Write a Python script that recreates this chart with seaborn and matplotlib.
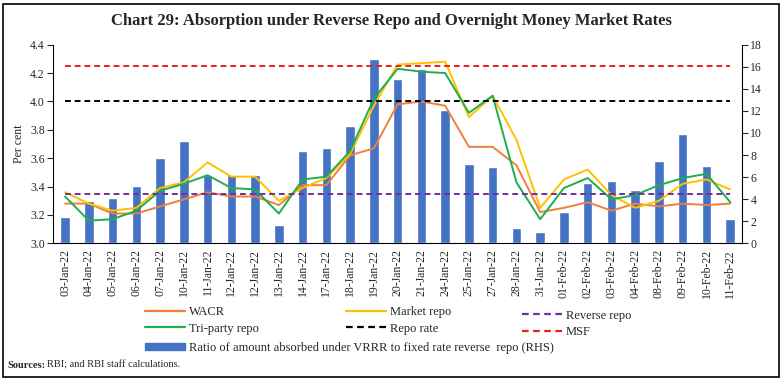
import matplotlib
matplotlib.use("Agg")
import matplotlib.pyplot as plt
import matplotlib.patches as mpatches
from matplotlib.lines import Line2D
import numpy as np
import pandas as pd
import seaborn as sns

sns.set_style("white")
plt.rcParams['font.family'] = ['Liberation Serif', 'DejaVu Serif']

# data
dates = ['03-Jan-22', '04-Jan-22', '05-Jan-22', '06-Jan-22', '07-Jan-22', '10-Jan-22',
         '11-Jan-22', '12-Jan-22', '12-Jan-22', '13-Jan-22', '14-Jan-22', '17-Jan-22',
         '18-Jan-22', '19-Jan-22', '20-Jan-22', '21-Jan-22', '24-Jan-22', '25-Jan-22',
         '27-Jan-22', '28-Jan-22', '31-Jan-22', '01-Feb-22', '02-Feb-22', '03-Feb-22',
         '04-Feb-22', '08-Feb-22', '09-Feb-22', '10-Feb-22', '11-Feb-22']
vrrr_ratio = [2.4, 3.8, 4.1, 5.2, 7.7, 9.3, 6.2, 6.2, 6.2, 1.7, 8.4, 8.6, 10.6, 16.7,
              14.9, 15.8, 12.1, 7.2, 6.95, 1.35, 1.05, 2.85, 5.45, 5.65, 4.8, 7.5,
              9.9, 7.0, 2.25]
wacr = [3.28, 3.28, 3.21, 3.21, 3.26, 3.31, 3.36, 3.33, 3.33, 3.27, 3.41, 3.41, 3.62,
        3.67, 3.98, 4.00, 3.97, 3.68, 3.68, 3.55, 3.22, 3.25, 3.29, 3.23, 3.28, 3.26,
        3.28, 3.27, 3.28]
market_repo = [3.36, 3.28, 3.23, 3.25, 3.39, 3.43, 3.57, 3.47, 3.47, 3.30, 3.39, 3.46,
               3.63, 3.97, 4.26, 4.27, 4.28, 3.89, 4.04, 3.73, 3.25, 3.45, 3.52, 3.34,
               3.25, 3.30, 3.42, 3.45, 3.38]
triparty = [3.33, 3.16, 3.17, 3.23, 3.37, 3.42, 3.48, 3.39, 3.38, 3.21, 3.45, 3.47,
            3.65, 4.02, 4.23, 4.21, 4.20, 3.92, 4.04, 3.43, 3.17, 3.39, 3.46, 3.31,
            3.34, 3.41, 3.46, 3.49, 3.29]
repo_rate = [4.0] * len(dates)
reverse_repo = [3.35] * len(dates)
msf = [4.25] * len(dates)

pos = np.arange(len(dates))
df = pd.DataFrame({'pos': pos, 'ratio': vrrr_ratio, 'WACR': wacr,
                   'Market repo': market_repo, 'Tri-party repo': triparty,
                   'Repo rate': repo_rate, 'Reverse repo': reverse_repo, 'MSF': msf})

fig = plt.figure(figsize=(7.82, 3.82), dpi=100)
ax = fig.add_axes([0.068, 0.363, 0.881, 0.52])
ax2 = ax.twinx()

# bars on the right axis
sns.barplot(data=df, x='pos', y='ratio', color='#4472C4', width=0.4,
            native_scale=True, ax=ax2, saturation=1, zorder=1)

line_styles = {
    'WACR': ('#F07F3C', '-'),
    'Market repo': ('#FFC000', '-'),
    'Tri-party repo': ('#1FAE4B', '-'),
    'Repo rate': ('black', (0, (3, 2))),
    'Reverse repo': ('#7030A0', (0, (3, 2))),
    'MSF': ('#E8201C', (0, (3, 2))),
}
for name, (col, ls) in line_styles.items():
    sns.lineplot(data=df, x='pos', y=name, color=col, linestyle=ls, linewidth=1.4,
                 ax=ax)

ax.set_zorder(ax2.get_zorder() + 1)
ax.patch.set_visible(False)

ax.set_xlim(-0.5, len(dates) - 0.5)
ax.set_ylim(3.0, 4.4)
ax.set_yticks(np.arange(3.0, 4.41, 0.2))
ax.set_yticklabels([f"{v:.1f}" for v in np.arange(3.0, 4.41, 0.2)], fontsize=8.5)
ax2.set_ylim(0, 18)
ax2.set_yticks(range(0, 19, 2))
ax2.set_yticklabels([str(v) for v in range(0, 19, 2)], fontsize=8.5)
ax.set_ylabel('Per cent', fontsize=8.5)
ax2.set_ylabel('')
ax.set_xlabel('')
ax2.set_xlabel('')

ax.set_xticks(pos)
ax.set_xticklabels(dates, rotation=90, fontsize=8.5)
ax.set_xticks(np.arange(-0.5, len(dates), 1), minor=True)
ax.tick_params(axis='x', which='major', length=0, pad=4)
ax.tick_params(axis='x', which='minor', length=4, direction='out', width=0.8)
ax.tick_params(axis='y', length=4, direction='out', width=0.8, pad=2)
ax2.tick_params(axis='y', length=4, direction='out', width=0.8, pad=2)

for a in (ax, ax2):
    a.spines['top'].set_visible(False)
    for s in ('left', 'right', 'bottom'):
        a.spines[s].set_linewidth(0.8)
        a.spines[s].set_color('black')
ax.spines['right'].set_visible(False)
ax2.spines['left'].set_visible(False)
ax2.spines['bottom'].set_visible(False)

fig.text(0.5, 0.945, 'Chart 29: Absorption under Reverse Repo and Overnight Money Market Rates',
         ha='center', va='center', fontsize=12, fontweight='bold')


def line_handle(name):
    col, ls = line_styles[name]
    return Line2D([], [], color=col, linestyle=ls, lw=1.6)


legend_kw = dict(frameon=False, fontsize=9, handlelength=3.2, labelspacing=0.35,
                 borderaxespad=0, borderpad=0, handletextpad=0.3, loc='center left')
columns = [(['WACR', 'Tri-party repo'], 0.1854, 0.161),
           (['Market repo', 'Repo rate'], 0.4425, 0.161),
           (['Reverse repo', 'MSF'], 0.6675, 0.152)]
for names, lx, ly in columns:
    fig.legend([line_handle(n) for n in names], names, bbox_to_anchor=(lx, ly),
               **legend_kw)
fig.legend([mpatches.Patch(color='#4472C4')],
           ['Ratio of amount absorbed under VRRR to fixed rate reverse  repo (RHS)'],
           bbox_to_anchor=(0.1854, 0.089), handleheight=0.4, **legend_kw)

fig.text(0.01, 0.0445, 'Sources:', fontsize=7.5, fontweight='bold', va='center')
fig.text(0.060, 0.0445, 'RBI; and RBI staff calculations.', fontsize=7.5, va='center')

fig.patches.append(mpatches.Rectangle((0.0038, 0.013), 0.992, 0.976, transform=fig.transFigure,
                                      fill=False, edgecolor='black', linewidth=1.2))

fig.savefig('out.png', dpi=100)
